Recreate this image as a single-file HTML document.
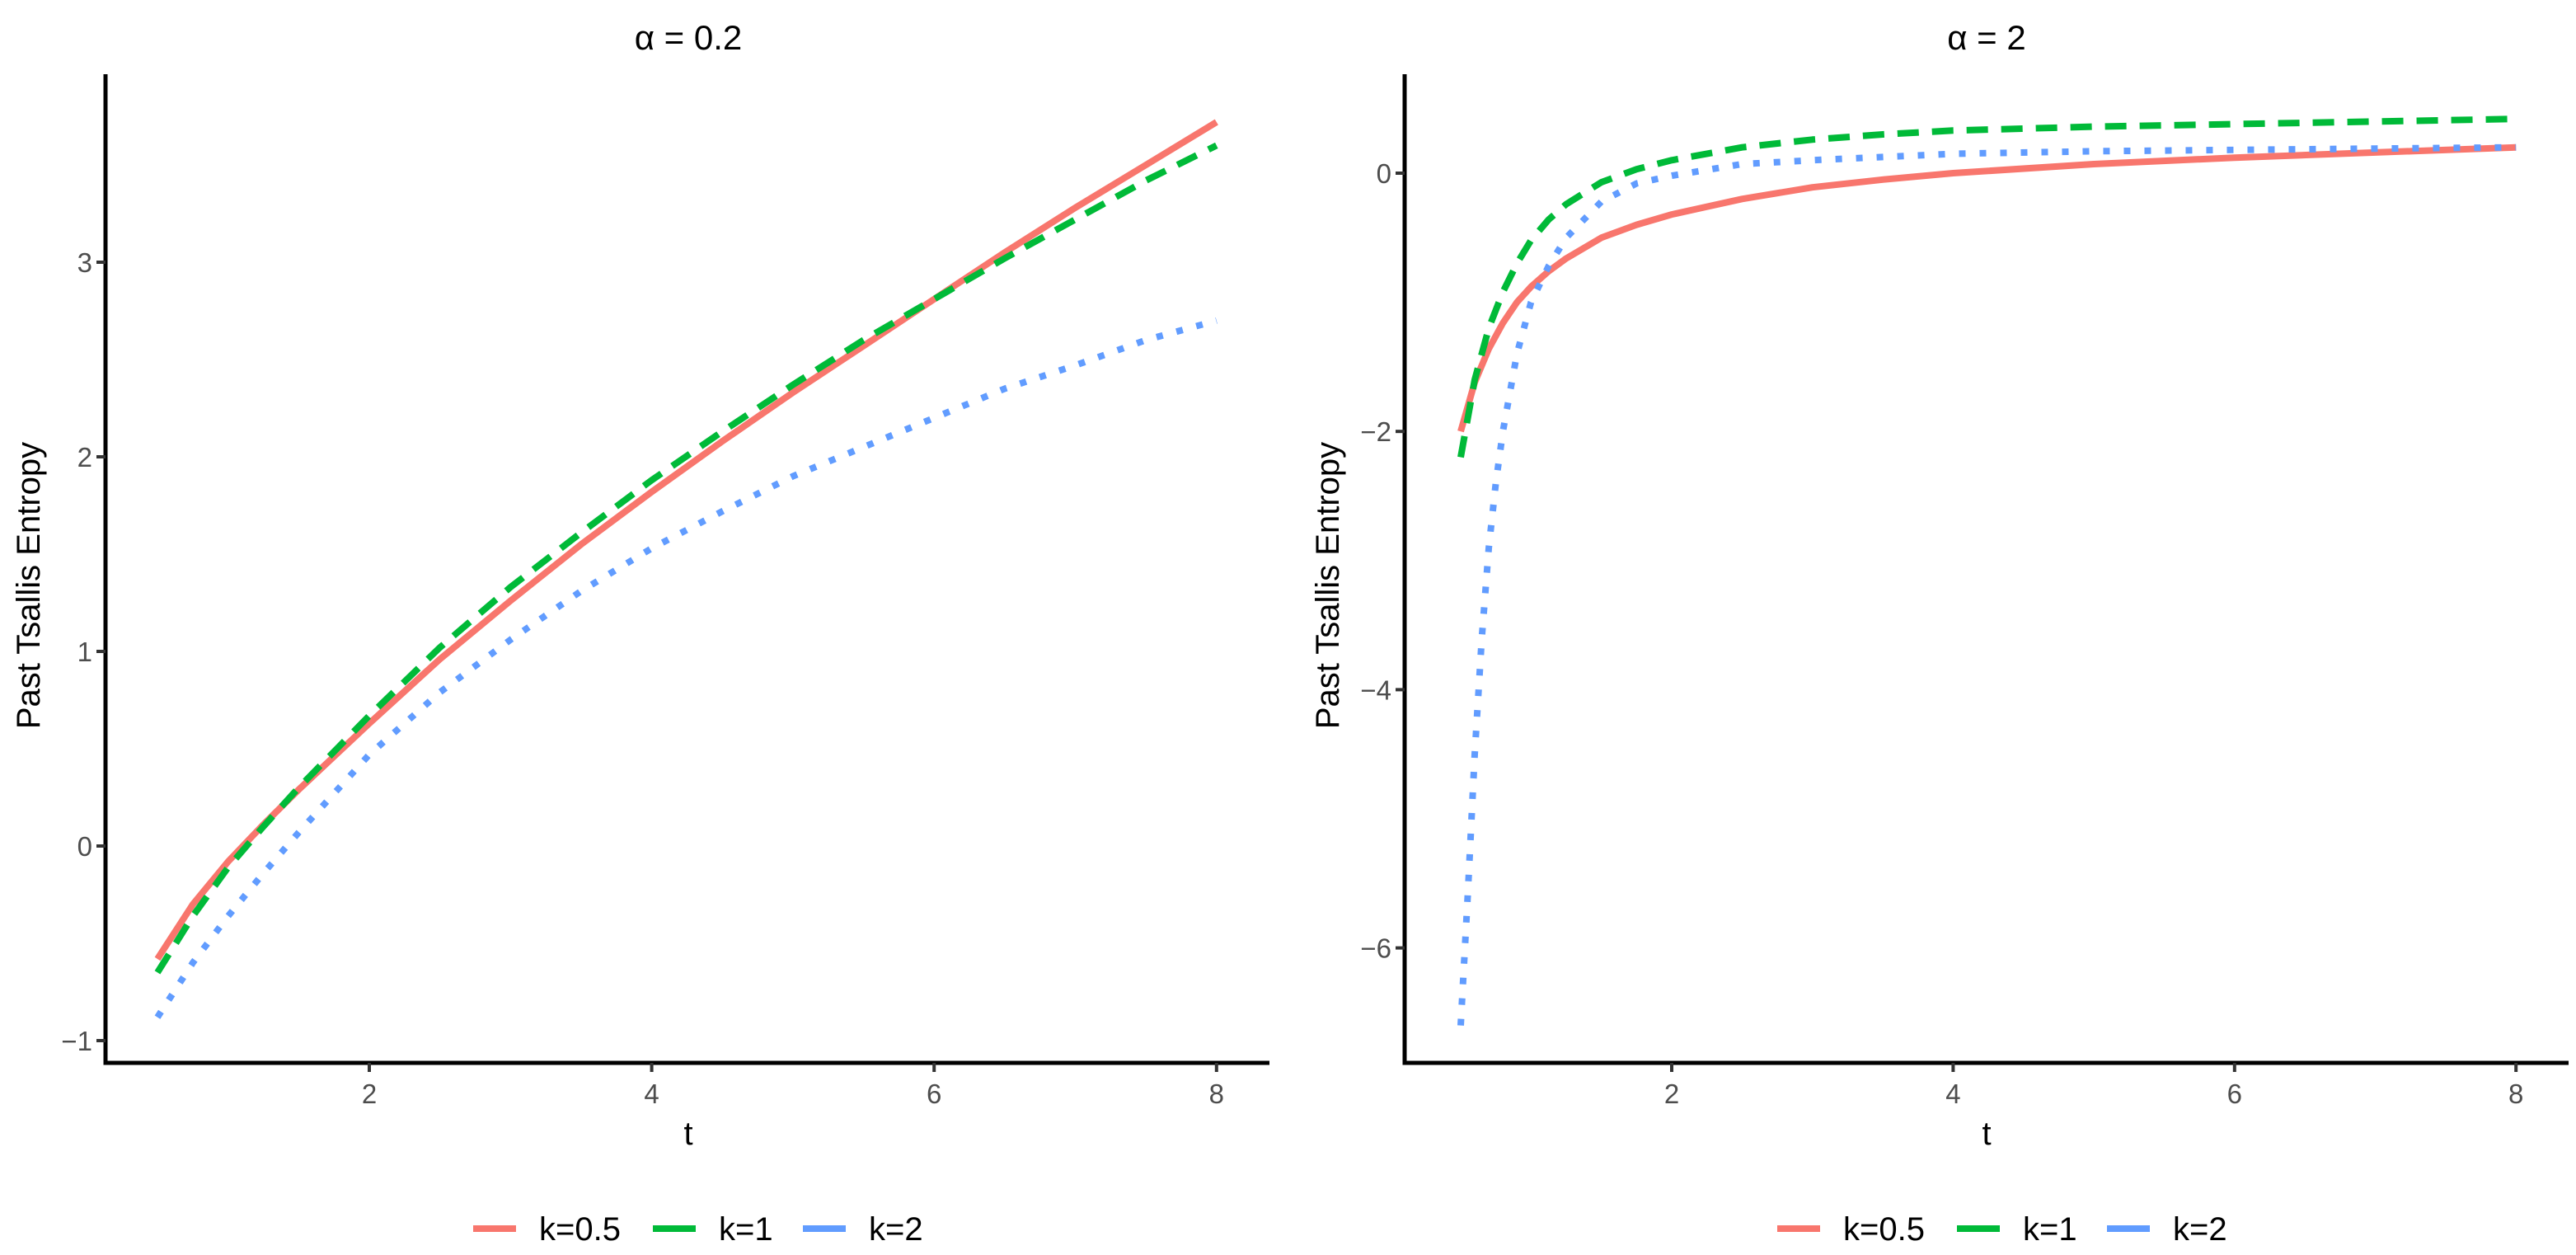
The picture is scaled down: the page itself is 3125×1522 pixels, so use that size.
<!DOCTYPE html>
<html><head><meta charset="utf-8"><style>
body{margin:0;background:#fff}
svg{display:block;font-family:"Liberation Sans",Arial,sans-serif}
</style></head><body>
<svg id="chart" width="3125" height="1522" viewBox="0 0 3125 1522" xmlns="http://www.w3.org/2000/svg"></svg>
<script>
// Panel 1 (alpha = 0.2)
const tA = [0.5,0.75,1,1.25,1.5,2,2.5,3,3.5,4,4.5,5,5.5,6,6.5,7,7.5,8];
const a1K05 = [-0.58,-0.3,-0.08,0.11,0.29,0.63,0.96,1.26,1.55,1.82,2.08,2.33,2.57,2.81,3.05,3.28,3.5,3.72];
const a1K1  = [-0.65,-0.36,-0.11,0.1,0.3,0.67,1.02,1.33,1.61,1.88,2.13,2.37,2.6,2.81,3.02,3.22,3.42,3.6];
const a1K2  = [-0.88,-0.6,-0.36,-0.14,0.07,0.47,0.79,1.06,1.31,1.53,1.72,1.9,2.05,2.2,2.35,2.47,2.6,2.7];
// Panel 2 (alpha = 2)
const tB = [0.5,0.6,0.7,0.8,0.9,1,1.125,1.25,1.5,1.75,2,2.5,3,3.5,4,5,6,7,8];
const a2K05 = [-2.0,-1.62,-1.36,-1.16,-1.0,-0.88,-0.76,-0.66,-0.5,-0.4,-0.32,-0.2,-0.11,-0.05,0.0,0.07,0.12,0.16,0.2];
const a2K1  = [-2.2,-1.6,-1.2,-0.92,-0.7,-0.52,-0.36,-0.24,-0.07,0.03,0.1,0.2,0.26,0.3,0.33,0.36,0.38,0.4,0.42];
const tC = [0.5,0.55,0.6,0.65,0.7,0.75,0.8,0.9,1,1.125,1.25,1.5,1.75,2,2.5,3,4,5,6,7,8];
const a2K2  = [-6.6,-5.6,-4.5,-3.6,-2.9,-2.4,-2.0,-1.4,-1.0,-0.72,-0.5,-0.22,-0.08,-0.02,0.07,0.1,0.15,0.17,0.18,0.19,0.2];
const xTicks = [2,4,6,8];
const yTicks1 = [-1,0,1,2,3];
const yTicks2 = [-6,-4,-2,0];
const legendLabels = ["k=0.5","k=1","k=2"];

const NS="http://www.w3.org/2000/svg";
const svg=document.getElementById('chart');
function mk(tag,attrs,parent){const e=document.createElementNS(NS,tag);for(const k in attrs)e.setAttribute(k,attrs[k]);(parent||svg).appendChild(e);return e;}
const colors=["#F8766D","#00BA38","#619CFF"];
const dashes=["none","26 16","8 17"];

function panel(p){
  const g=mk('g',{});
  
  
  const X=t=>p.x2+(t-2)*p.xs;
  const Y=v=>p.y0-v*p.ys;
  const t=mk('text',{x:p.cx,y:60,'font-size':42,'text-anchor':'middle',fill:'#000'},g);
  
  
  t.textContent=p.title;
  p.series.forEach((s,i)=>{
    const d=s.t.map((tv,j)=>(j?'L':'M')+X(tv).toFixed(1)+','+Y(s.v[j]).toFixed(1)).join('');
    const path=mk('path',{d:d,fill:'none',stroke:colors[i],'stroke-width':8,'stroke-linejoin':'round','stroke-dasharray':dashes[i]},g);
    
    
  });
  const ax=mk('path',{d:`M${p.ax},90V1289H${p.ax+1412}`,fill:'none',stroke:'#000','stroke-width':5},g);
  
  
  xTicks.forEach(v=>{
    mk('line',{x1:X(v),x2:X(v),y1:1289,y2:1300,stroke:'#333','stroke-width':4},g);
    const l=mk('text',{x:X(v),y:1338,'font-size':33,'text-anchor':'middle',fill:'#4d4d4d'},g);
    
    
    l.textContent=v;
  });
  p.yt.forEach(v=>{
    mk('line',{x1:p.ax-11,x2:p.ax,y1:Y(v),y2:Y(v),stroke:'#333','stroke-width':4},g);
    const l=mk('text',{x:p.ax-16,y:Y(v)+12,'font-size':33,'text-anchor':'end',fill:'#4d4d4d'},g);
    
    
    l.textContent=v<0?'\u2212'+(-v):v;
  });
  const xl=mk('text',{x:p.cx,y:1388,'font-size':40,'text-anchor':'middle',fill:'#000'},g);
  
  
  xl.textContent='t';
  const yl=mk('text',{x:0,y:0,'font-size':40,'text-anchor':'middle',fill:'#000',transform:`translate(${p.ax-80},710) rotate(-90)`},g);
  
  
  yl.textContent='Past Tsallis Entropy';
  const lx=[p.lx,p.lx+218,p.lx+400];
  legendLabels.forEach((lab,i)=>{
    const le=mk('g',{},g);
    
    
    mk('line',{x1:lx[i],x2:lx[i]+52,y1:1490,y2:1490,stroke:colors[i],'stroke-width':8},le);
    const tx=mk('text',{x:lx[i]+80,y:1504,'font-size':40,fill:'#000'},le);
    tx.textContent=lab;
  });
}
panel({name:'panel-alpha-0-2',title:'\u03b1 = 0.2',ax:128,x2:448,xs:171.3,y0:1026,ys:236,cx:835,yt:yTicks1,lx:574,
  series:[{t:tA,v:a1K05},{t:tA,v:a1K1},{t:tA,v:a1K2}]});
panel({name:'panel-alpha-2',title:'\u03b1 = 2',ax:1704,x2:2028,xs:170.7,y0:210,ys:156.6,cx:2410,yt:yTicks2,lx:2156,
  series:[{t:tB,v:a2K05},{t:tB,v:a2K1},{t:tC,v:a2K2}]});
</script>
</body></html>
